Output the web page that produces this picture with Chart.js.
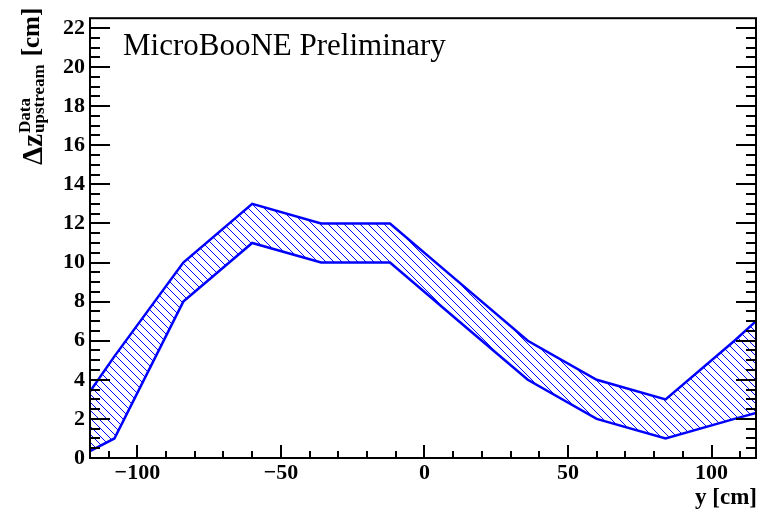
<!DOCTYPE html>
<html>
<head>
<meta charset="utf-8">
<script src="https://cdn.jsdelivr.net/npm/chart.js@4.4.0/dist/chart.umd.min.js"></script>
<style>
  html, body { margin: 0; padding: 0; background: #fff; }
  #wrap { width: 758px; height: 513px; }
</style>
</head>
<body>
<div id="wrap"><canvas id="myChart" width="758" height="513"></canvas></div>
<script>
// y positions [cm] and the band edges
var yPos  = [-116.5, -108, -84, -60, -36, -12, 12, 36, 60, 84, 108, 115.5];
var upper = [3.4, 5.2, 10, 13, 12, 12, 9, 6, 4, 3, 6, 7];
var lower = [0.35, 1, 8, 11, 10, 10, 7, 4, 2, 1, 2, 2.3];

var xTicks = [-100, -50, 0, 50, 100];
var yTicks = [0, 2, 4, 6, 8, 10, 12, 14, 16, 18, 20, 22];

var xMin = -116.5, xMax = 115.5;
var yMin = 0, yMax = 22.5;

var serif = "'Liberation Serif', 'Times New Roman', serif";
var blue = "#0000ff";

// hatch pattern "\\\\"
function makeHatch() {
    var c = document.createElement("canvas");
    c.width = 8; c.height = 8;
    var g = c.getContext("2d");
    g.strokeStyle = blue;
    g.lineWidth = 1;
    g.beginPath();
    g.moveTo(-1, -1); g.lineTo(9, 9);
    g.moveTo(7, -1); g.lineTo(9, 1);
    g.moveTo(-1, 7); g.lineTo(1, 9);
    g.stroke();
    return g.createPattern(c, "repeat");
}

function pts(xs, ys) {
    var out = [];
    for (var i = 0; i < xs.length; i++) out.push({x: xs[i], y: ys[i]});
    return out;
}

// frame, inward ticks and axis titles (ROOT style)
var framePlugin = {
    id: "frame",
    afterDraw: function (chart) {
        var ctx = chart.ctx;
        var a = chart.chartArea;
        var xs = chart.scales.x, ys = chart.scales.y;
        ctx.save();
        ctx.strokeStyle = "#000";
        ctx.lineWidth = 2;
        ctx.beginPath();
        // bottom ticks
        for (var v = -110; v <= 110; v += 10) {
            var px = Math.round(xs.getPixelForValue(v));
            var len = (v % 50 === 0) ? 13 : 7;
            ctx.moveTo(px, a.bottom); ctx.lineTo(px, a.bottom - len);
        }
        // left + right ticks
        for (var w = 0.5; w < yMax; w += 0.5) {
            var py = Math.round(ys.getPixelForValue(w));
            var l2 = (w % 2 === 0) ? 20 : 10;
            ctx.moveTo(a.left, py); ctx.lineTo(a.left + l2, py);
            ctx.moveTo(a.right, py); ctx.lineTo(a.right - l2, py);
        }
        ctx.stroke();
        ctx.strokeRect(a.left, a.top, a.right - a.left, a.bottom - a.top);

        ctx.fillStyle = "#000";
        // x title
        ctx.font = "bold 23px " + serif;
        ctx.textAlign = "right";
        ctx.textBaseline = "alphabetic";
        ctx.fillText("y [cm]", a.right + 1, 504);

        // y title, rotated
        ctx.save();
        ctx.translate(42, 165);
        ctx.rotate(-Math.PI / 2);
        ctx.textAlign = "left";
        ctx.font = "bold 29px " + serif;
        ctx.fillText("\u0394z", 0, 0);
        var w1 = ctx.measureText("\u0394z").width;
        ctx.font = "bold 17px " + serif;
        ctx.fillText("Data", w1 + 1, -12);
        ctx.fillText("upstream", w1 + 1, 2);
        var w2 = ctx.measureText("upstream").width;
        ctx.font = "bold 25px " + serif;
        ctx.fillText("[cm]", w1 + w2 + 9, -3);
        ctx.restore();

        // label
        ctx.font = "31px " + serif;
        ctx.textAlign = "left";
        ctx.fillText("MicroBooNE Preliminary", 123, 55);
        ctx.restore();
    }
};

var ctx = document.getElementById("myChart").getContext("2d");
var chart = new Chart(ctx, {
    type: "line",
    data: {
        datasets: [{
            label: "lower",
            data: pts(yPos, lower),
            borderColor: blue,
            borderWidth: 2.5,
            pointRadius: 0,
            fill: false
        }, {
            label: "upper",
            data: pts(yPos, upper),
            borderColor: blue,
            borderWidth: 2.5,
            pointRadius: 0,
            backgroundColor: makeHatch(),
            fill: "-1"
        }]
    },
    options: {
        responsive: false,
        animation: false,
        layout: { padding: { top: 15, right: 2, left: 0, bottom: 0 } },
        plugins: {
            legend: { display: false },
            tooltip: { enabled: false }
        },
        elements: { line: { tension: 0 } },
        scales: {
            x: {
                type: "linear",
                min: xMin,
                max: xMax,
                grid: { display: false, drawTicks: false },
                border: { display: false },
                afterBuildTicks: function (s) {
                    s.ticks = xTicks.map(function (v) { return {value: v}; });
                },
                afterFit: function (s) { s.height = 55; },
                ticks: {
                    padding: 2,
                    maxRotation: 0,
                    autoSkip: false,
                    color: "#000",
                    font: { family: serif, size: 22, weight: "bold" },
                    callback: function (v) { return String(v).replace("-", "\u2212"); }
                }
            },
            y: {
                min: yMin,
                max: yMax,
                grid: { display: false, drawTicks: false },
                border: { display: false },
                afterBuildTicks: function (s) {
                    s.ticks = yTicks.map(function (v) { return {value: v}; });
                },
                afterFit: function (s) { s.width = 90; },
                ticks: {
                    padding: 5,
                    autoSkip: false,
                    color: "#000",
                    font: { family: serif, size: 22, weight: "bold" }
                }
            }
        }
    },
    plugins: [framePlugin]
});
</script>
</body>
</html>
